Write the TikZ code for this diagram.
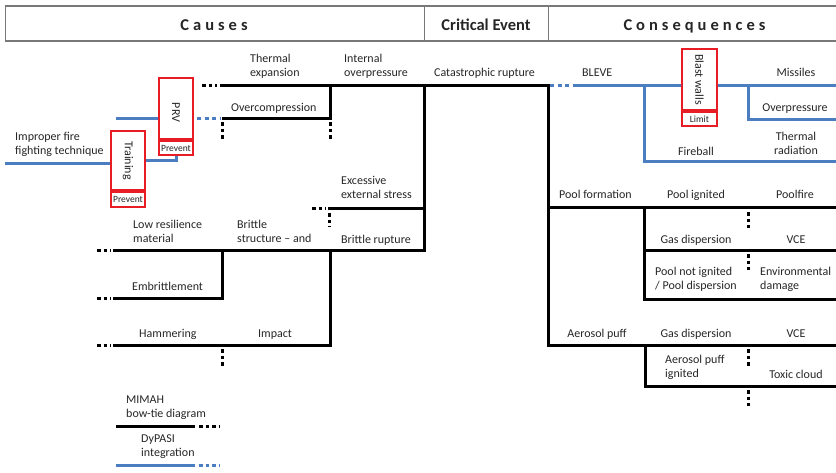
\documentclass[tikz,border=0pt]{standalone}
\usepackage{fontspec}
\setmainfont{Carlito}
\usetikzlibrary{calc}
\definecolor{bline}{RGB}{74,126,192}
\definecolor{rbox}{RGB}{232,28,36}
\definecolor{hgray}{RGB}{120,120,120}
\newcommand\hsp{\kern4pt}

\begin{document}
\begin{tikzpicture}[x=1pt,y=-1pt,
  bt/.style={line width=3pt, black},
  dy/.style={line width=3pt, bline},
  dots/.style={dash pattern=on 3.5pt off 3pt},
  bdots/.style={dash pattern=on 4pt off 3.5pt},
  lbl/.style={inner sep=0pt, font=\fontsize{12}{14.7}\selectfont, text=black!85, align=left, anchor=base west},
  clbl/.style={inner sep=0pt, font=\fontsize{12}{14.7}\selectfont, text=black!85, align=center, anchor=base},
  hd/.style={inner sep=0pt, font=\fontsize{16.5}{18}\selectfont\bfseries, text=black!85, anchor=base},
  redbox/.style={draw=rbox, line width=2pt, fill=white, inner sep=0pt, minimum width=34pt},
  tag/.style={inner sep=0pt, font=\fontsize{9.5}{10}\selectfont, text=black!85},
  barrier/.style={inner sep=0pt, font=\fontsize{12}{14}\selectfont, text=black!85, rotate=-90},
]
\useasboundingbox (0,0) rectangle (836,472);

% ---------- header band ----------
\draw[hgray, line width=1.6pt] (5,6) -- (836,6) (5,41) -- (836,41);
\draw[hgray, line width=1pt] (5,6) -- (5,41) (424,6) -- (424,41) (548,6) -- (548,41);
\node[hd] (hcause) at (214,30) {C\hsp a\hsp u\hsp s\hsp e\hsp s};
\node[hd] (hcrit) at (486,30) {Critical Event};
\node[hd] (hcons) at (694.5,30) {C\hsp o\hsp n\hsp s\hsp e\hsp q\hsp u\hsp e\hsp n\hsp c\hsp e\hsp s};

% ---------- junction points, causes side ----------
\coordinate (te0) at (220,85);
\coordinate (j1) at (330,85);
\coordinate (ce) at (424,85);
\coordinate (cr) at (548,85);
\coordinate (oc0) at (222,118);
\coordinate (oc1) at (330,118);
\coordinate (es0) at (328,208);
\coordinate (es1) at (424,208);
\coordinate (br0) at (113,250);
\coordinate (j2) at (222,250);
\coordinate (j3) at (330,250);
\coordinate (br1) at (424,250);
\coordinate (em0) at (113,298);
\coordinate (em1) at (222,298);
\coordinate (hm0) at (113,345);
\coordinate (hm1) at (330,345);

% ---------- junction points, consequences side ----------
\coordinate (bl0) at (575,85);
\coordinate (bj1) at (644,85);
\coordinate (bj2) at (748,85);
\coordinate (bend) at (836,85);
\coordinate (op0) at (748,119);
\coordinate (op1) at (836,119);
\coordinate (fb0) at (644,161);
\coordinate (fb1) at (836,161);
\coordinate (pf0) at (548,207);
\coordinate (pj) at (644,207);
\coordinate (pf1) at (836,207);
\coordinate (gd0) at (644,250);
\coordinate (gd1) at (836,250);
\coordinate (pn0) at (644,299);
\coordinate (pn1) at (836,299);
\coordinate (ap0) at (548,345);
\coordinate (aj) at (645,345);
\coordinate (ap1) at (836,345);
\coordinate (tc0) at (645,386);
\coordinate (tc1) at (836,386);

% ---------- MIMAH bow-tie (black) ----------
\draw[bt] (te0) -- (cr) -- (ap0) -- (ap1);
\draw[bt] (ce) -- (br1) -- (br0);
\draw[bt] (es0) -- (es1);
\draw[bt] (j1) -- (oc1) -- (oc0);
\draw[bt] (j2) -- (em1) -- (em0);
\draw[bt] (j3) -- (hm1) -- (hm0);
\draw[bt] (pf0) -- (pf1);
\draw[bt] (pj) -- (pn0) -- (pn1);
\draw[bt] (gd0) -- (gd1);
\draw[bt] (aj) -- (tc0) -- (tc1);

% open ends
\draw[bt,dots] ($(te0)+(-18,0)$) -- ($(te0)+(-3,0)$);
\draw[bt,dots] ($(oc0)+(0,4)$) -- ($(oc0)+(0,21)$);
\draw[bt,dots] ($(oc1)+(0,4)$) -- ($(oc1)+(0,21)$);
\draw[bt,dots] ($(es0)+(-16,0)$) -- ($(es0)+(-2,0)$);
\draw[bt,dots] ($(es0)+(1,5)$) -- ($(es0)+(1,19)$);
\draw[bt,dots] ($(br0)+(-16,0)$) -- ($(br0)+(-2,0)$);
\draw[bt,dots] ($(em0)+(-16,0)$) -- ($(em0)+(-2,0)$);
\draw[bt,dots] ($(hm0)+(-16,0)$) -- ($(hm0)+(-2,0)$);
\draw[bt,dots] (222,349) -- (222,366);
\draw[bt,dots] (748,212) -- (748,228);
\draw[bt,dots] (748,254) -- (748,270);
\draw[bt,dots] (748,349) -- (748,366);
\draw[bt,dots] (748,390) -- (748,406);

% ---------- DyPASI integration (blue) ----------
\draw[dy,bdots] (550,85) -- (bl0);
\draw[dy] (bl0) -- (bend);
\draw[dy] (bj1) -- (fb0) -- (fb1);
\draw[dy] (bj2) -- (op0) -- (op1);

% safety barriers
\node[redbox, minimum height=61pt] (prv) at (176,108.5) {};
\node[redbox, minimum height=14pt, anchor=north] (prvtag) at (prv.south) {};
\node[redbox, minimum height=59pt] (tr) at (128,160.5) {};
\node[redbox, minimum height=15pt, anchor=north] (trtag) at (tr.south) {};

\coordinate (src) at (5,163);
\coordinate (prvin) at (116,118);
\draw[dy] (src) -- (src -| tr.west);
\draw[dy] (tr.east) -- (tr.east -| prvtag.south) -- (prvtag.south);
\draw[dy] (prvin) -- (prvin -| prv.west);
\draw[dy,bdots] ($(prvin -| prv.east)+(3,0)$) -- ($(oc0)+(-1,0)$);

\node[redbox, minimum width=35pt, minimum height=61pt] (bw) at (699.5,79.5) {};
\node[redbox, minimum width=35pt, minimum height=14pt, anchor=north] (bwtag) at (bw.south) {};

\node[barrier] (prvt) at ($(prv.center)+(0,4)$) {PRV};
\node[tag] (prvp) at (prvtag.center) {Prevent};
\node[barrier] (trt) at (tr.center) {Training};
\node[tag] (trp) at (trtag.center) {Prevent};
\node[barrier] (bwt) at (bw.center) {Blast walls};
\node[tag] (bwl) at (bwtag.center) {Limit};

% ---------- labels, causes (two-line labels sit on their last baseline) ----------
\node[lbl] (l1) at (250,76.7) {Thermal\\expansion};
\node[lbl] (l2) at (344,76.7) {Internal\\overpressure};
\node[lbl] (l3) at (231,111) {Overcompression};
\node[lbl] (l4) at (15,154.7) {Improper fire\\fighting technique};
\node[lbl] (l5) at (341,198.7) {Excessive\\external stress};
\node[lbl] (l6) at (133,242.7) {Low resilience\\material};
\node[lbl] (l7) at (237,242.7) {Brittle\\structure -- and};
\node[lbl] (l8) at (341,243) {Brittle rupture};
\node[lbl] (l9) at (132,290) {Embrittlement};
\node[lbl] (l10) at (139,337) {Hammering};
\node[lbl] (l11) at (258,337) {Impact};

% ---------- critical event ----------
\node[lbl] (l12) at (434,76) {Catastrophic rupture};

% ---------- labels, consequences ----------
\node[lbl] (l13) at (582,76) {BLEVE};
\node[clbl] (l14) at (796,76) {Missiles};
\node[clbl] (l15) at (795,111) {Overpressure};
\node[clbl] (l16) at (796,154.7) {Thermal\\radiation};
\node[clbl] (l17) at (696,155) {Fireball};
\node[lbl] (l18) at (559,198) {Pool formation};
\node[clbl] (l19) at (696,198) {Pool ignited};
\node[clbl] (l20) at (795,198) {Poolfire};
\node[clbl] (l21) at (696,243) {Gas dispersion};
\node[clbl] (l22) at (796,243) {VCE};
\node[lbl] (l23) at (655,289.7) {Pool not ignited\\/ Pool dispersion};
\node[lbl] (l24) at (760,289.7) {Environmental\\damage};
\node[clbl] (l25) at (597,337) {Aerosol puff};
\node[clbl] (l26) at (696,337) {Gas dispersion};
\node[clbl] (l27) at (796,337) {VCE};
\node[lbl] (l28) at (665,377.7) {Aerosol puff\\ignited};
\node[clbl] (l29) at (796,378) {Toxic cloud};

% ---------- legend ----------
\coordinate (lg1) at (116,426);
\coordinate (lg1e) at (195,426);
\coordinate (lg2) at (116,465);
\coordinate (lg2e) at (195,465);
\node[lbl] (lt1) at (126,417.7) {MIMAH\\bow-tie diagram};
\draw[bt] (lg1) -- (lg1e);
\draw[bt,dots] ($(lg1e)+(4,0)$) -- ($(lg1e)+(25,0)$);
\node[lbl] (lt2) at (141,456.7) {DyPASI\\integration};
\draw[dy] (lg2) -- (lg2e);
\draw[dy,dots] ($(lg2e)+(4,0)$) -- ($(lg2e)+(25,0)$);
\end{tikzpicture}
\end{document}
